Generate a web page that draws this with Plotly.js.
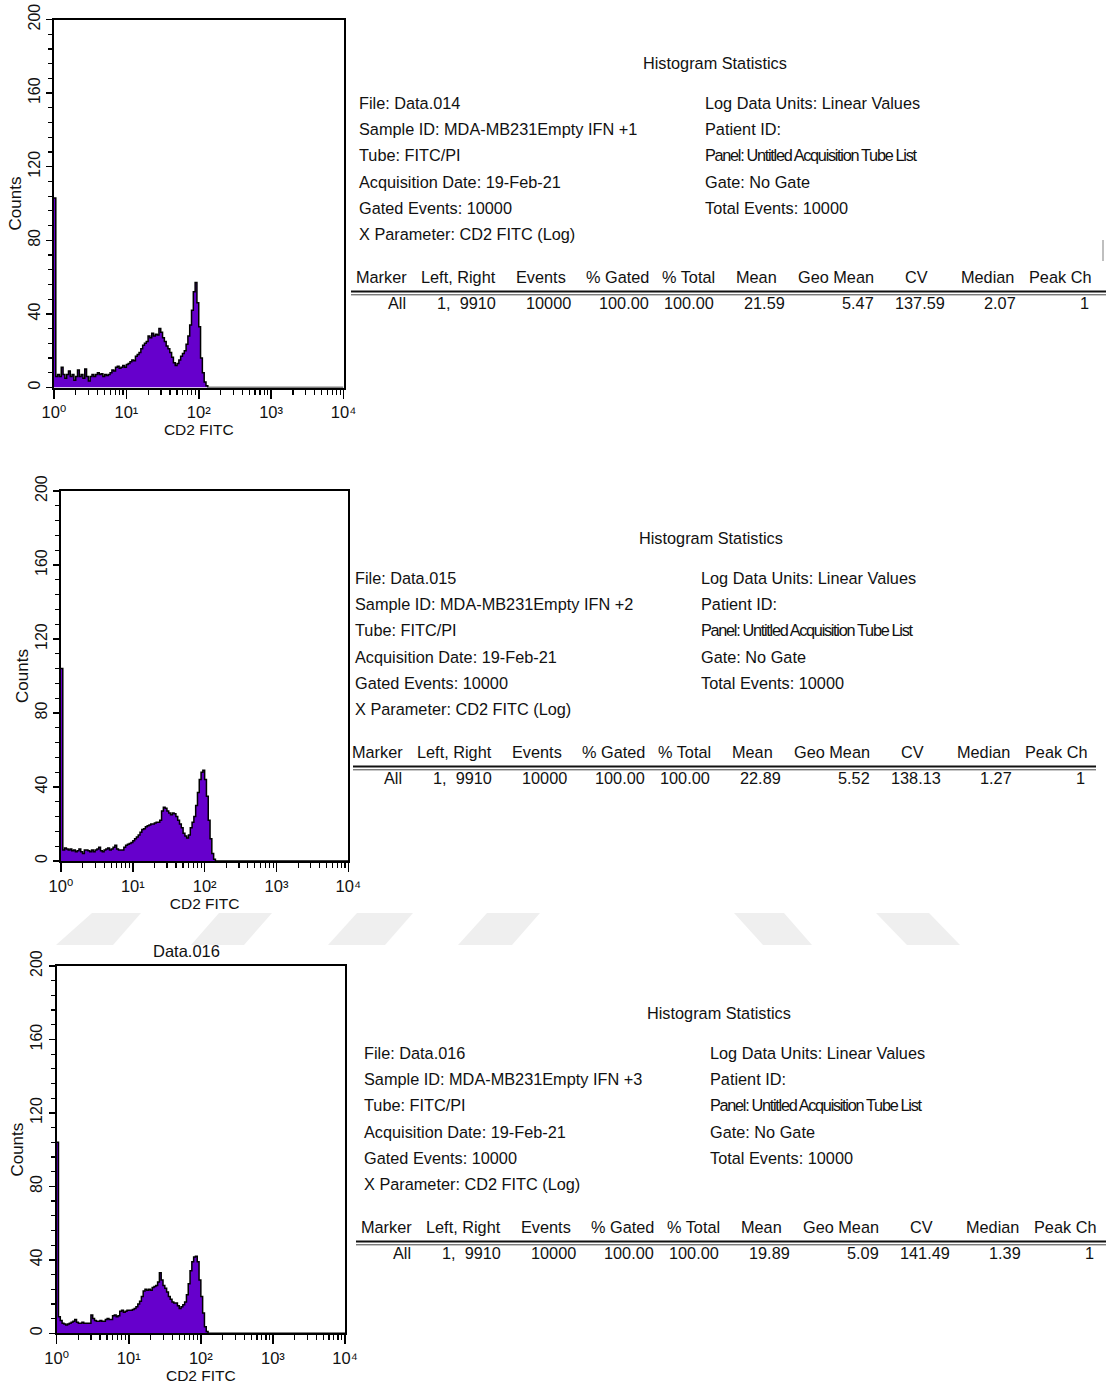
<!DOCTYPE html>
<html>
<head>
<meta charset="utf-8">
<script src="https://cdn.plot.ly/plotly-3.0.1.min.js"></script>
<style>html,body{margin:0;padding:0;background:#fff;}#chart{width:1106px;height:1387px;}</style>
</head>
<body>
<div id="chart"></div>
<script>
// ---------------- DATA ----------------
// log-spaced channel positions (CD2 FITC intensity)
const channels = [1.000,1.059,1.122,1.189,1.259,1.334,1.413,1.496,1.585,1.679,1.778,1.884,1.995,2.113,2.239,2.371,2.512,2.661,2.818,2.985,
  3.162,3.350,3.548,3.758,3.981,4.217,4.467,4.732,5.012,5.309,5.623,5.957,6.310,6.683,7.079,7.499,7.943,8.414,8.913,9.441,
  10.00,10.59,11.22,11.89,12.59,13.34,14.13,14.96,15.85,16.79,17.78,18.84,19.95,21.13,22.39,23.71,25.12,26.61,28.18,29.85,
  31.62,33.50,35.48,37.58,39.81,42.17,44.67,47.32,50.12,53.09,56.23,59.57,63.10,66.83,70.79,74.99,79.43,84.14,89.13,94.41,
  100.0,105.9,112.2,118.9,125.9,133.4,141.3,10000];

const counts014 = [103,6,7,6,11,7,5,7,9,6,7,4,6,9.5,6,7,5,10,6,3.5,
  6,7,6,7,8,7,7.5,6,7,6.5,7,8,9.5,9,11,11.5,10.5,11,12,11,
  12.5,13,14,15,14.5,17,18,19,21,23,24,25,28,27,29.5,28,29,28.5,32,30,
  27,25,22.5,21,19,16.5,13.5,12,13,15,17,18.5,20,23.5,28,34,42,52,57,46,
  33,16,8,3,1,0,0,0];

const counts015 = [104,6,7,6.5,6,6.5,5.5,6,5,5.5,6.5,5,4,6,6,5.5,5,6,5,6,
  6.5,7.5,5.5,5,6,6.5,7,6,6.5,7.5,8.5,6.5,6,6,6,7.5,8.5,9,9.5,10,
  11,12,13,14,15.5,17,17.5,18.5,19,19.5,20,20,20.5,21,21,22,27,29,28.5,27,
  26,25,26,25.5,24,22,20,18,15,13.5,12.5,14,18,21,24,30,37,44,48,49,
  44,35,22,12,4,1,0,0];

const counts016 = [104,9,7,5.5,5,4.5,5,5.5,6,6.5,7.5,6,5.5,5.5,6,5.5,5.5,5.5,5.5,10,
  8,7,6.5,6.5,7,6.5,6.5,7.5,8,7.5,7.5,9.5,10,9,9.5,12,12.5,11.5,12,12.5,
  12.5,12.5,13,13.5,14.5,16,17.5,20,23,24,23.5,24,23.5,25,25.5,26,28,33,29,26,
  24.5,22.5,20,18.5,17,16.5,16.5,15,13.5,14.5,15.5,17,21,27,34,39,41.5,42,39,29,
  20,11,3.5,1,0,0,0,0];

const xTickVals = [1,10,100,1000,10000];
const xTickText = ['10\u2070','10\u00b9','10\u00b2','10\u00b3','10\u2074'];
const yTickVals = [0,40,80,120,160,200];

const files = ['Data.014','Data.015','Data.016'];
const sampleIds = ['MDA-MB231Empty IFN +1','MDA-MB231Empty IFN +2','MDA-MB231Empty IFN +3'];
const tubes = ['FITC/PI','FITC/PI','FITC/PI'];
const acqDates = ['19-Feb-21','19-Feb-21','19-Feb-21'];
const gatedEvents = [10000,10000,10000];
const totalEvents = [10000,10000,10000];
const xParam = 'CD2 FITC (Log)';
const markers = ['All','All','All'];
const leftRight = ['1,\u00a0 9910','1,\u00a0 9910','1,\u00a0 9910'];
const events = [10000,10000,10000];
const pctGated = [100.00,100.00,100.00];
const pctTotal = [100.00,100.00,100.00];
const means = [21.59,22.89,19.89];
const geoMeans = [5.47,5.52,5.09];
const cvs = [137.59,138.13,141.49];
const medians = [2.07,1.27,1.39];
const peakCh = [1,1,1];
const statHeaders = ['Marker','Left, Right','Events','% Gated','% Total','Mean','Geo Mean','CV','Median','Peak Ch'];
const panelTitles = ['','','Data.016'];

// ---------------- LAYOUT HELPERS ----------------
const W = 1106, H = 1387;
const fx = p => p / W;
const fy = p => 1 - p / H;
const FONT = 'Liberation Sans, Arial, Helvetica, DejaVu Sans, sans-serif';
const TXT = '#111111';

const geom = [
  {xl:54,   xr:343.5, yb:387.5,  yt:19.5,  dx:0,   dy:0,   lx0:351, lx1:1106},
  {xl:61,   xr:348.3, yb:861,    yt:491,   dx:-4,  dy:475, lx0:353, lx1:1096},
  {xl:56.7, xr:345,   yb:1333.3, yt:966,   dx:4.5, dy:950, lx0:356, lx1:1106}
];
const allCounts = [counts014, counts015, counts016];

const minorX = [];
for (let k = 0; k < 4; k++) for (let m = 2; m <= 9; m++) minorX.push(m * Math.pow(10, k));

const headerRight = [409,498,568,651,717,779,876,930,1016,1093];
const valueRight  = [408,498,573,651,716,787,876,947,1018,1091];

const data = [];
const layout = {
  width: W, height: H,
  margin: {l:0, r:0, t:0, b:0},
  paper_bgcolor: '#fff', plot_bgcolor: '#fff',
  font: {family: FONT, color: TXT, size: 16},
  showlegend: false,
  annotations: [], shapes: []
};

geom.forEach((g, i) => {
  const n = i === 0 ? '' : String(i + 1);
  data.push({
    type: 'scatter', mode: 'lines',
    x: channels, y: allCounts[i],
    xaxis: 'x' + n, yaxis: 'y' + n,
    line: {shape: 'hv', color: '#000', width: 1.5},
    fill: 'tozeroy', fillcolor: '#6600CC',
    hoverinfo: 'skip'
  });
  layout['xaxis' + n] = {
    type: 'log', range: [0, 4], domain: [fx(g.xl), fx(g.xr)], anchor: 'y' + n,
    showline: true, mirror: true, linecolor: '#000', linewidth: 2,
    ticks: 'outside', ticklen: 9, tickwidth: 1.5, tickcolor: '#000',
    tickmode: 'array', tickvals: xTickVals, ticktext: xTickText,
    tickfont: {size: 16.5, family: FONT, color: TXT},
    showgrid: false, zeroline: false, automargin: false, fixedrange: true,
    minor: {tickmode: 'array', tickvals: minorX, ticks: 'outside', ticklen: 5, tickwidth: 1.2, tickcolor: '#000', showgrid: false},
    title: {text: 'CD2 FITC', font: {size: 15.5, family: FONT, color: TXT}, standoff: 1}
  };
  layout['yaxis' + n] = {
    range: [0, 200], domain: [fy(g.yb), fy(g.yt)], anchor: 'x' + n,
    showline: true, mirror: true, linecolor: '#000', linewidth: 2,
    ticks: 'outside', ticklen: 6, tickwidth: 1.5, tickcolor: '#000',
    tickmode: 'array', tickvals: yTickVals, tickangle: -90,
    tickfont: {size: 16, family: FONT, color: TXT},
    showgrid: false, zeroline: false, automargin: false, fixedrange: true,
    minor: {tick0: 0, dtick: 8, ticks: 'outside', ticklen: 4, tickwidth: 1.2, tickcolor: '#000', showgrid: false},
    title: {text: 'Counts', font: {size: 17, family: FONT, color: TXT}, standoff: 0}
  };

  const A = (text, x, y, anchor, extra) => layout.annotations.push(Object.assign({
    text: text, x: fx(x), y: fy(y), xref: 'paper', yref: 'paper',
    xanchor: anchor, yanchor: 'middle', showarrow: false,
    font: {size: 16.3, family: FONT, color: TXT}
  }, extra || {}));

  if (panelTitles[i]) A(panelTitles[i], (g.xl + g.xr) / 2 - 14, g.yt - 15, 'center', {font: {size: 16.5, family: FONT, color: TXT}});

  A('Histogram Statistics', 715 + g.dx, 63 + g.dy, 'center');
  const leftLines = [
    'File: ' + files[i],
    'Sample ID: ' + sampleIds[i],
    'Tube: ' + tubes[i],
    'Acquisition Date: ' + acqDates[i],
    'Gated Events: ' + gatedEvents[i],
    'X Parameter: ' + xParam
  ];
  leftLines.forEach((t, k) => A(t, 357 + g.dx, 103 + 26.2 * k + g.dy, 'left'));
  const rightLines = [
    'Log Data Units: Linear Values',
    'Patient ID:',
    '<span style="letter-spacing:-1.3px">Panel: Untitled Acquisition Tube List</span>',
    'Gate: No Gate',
    'Total Events: ' + totalEvents[i]
  ];
  rightLines.forEach((t, k) => A(t, 703 + g.dx, 103 + 26.2 * k + g.dy, 'left'));

  statHeaders.forEach((h, k) => A(h, headerRight[k] + g.dx, 277 + g.dy, 'right'));
  const vals = [markers[i], leftRight[i], String(events[i]), pctGated[i].toFixed(2), pctTotal[i].toFixed(2),
    means[i].toFixed(2), geoMeans[i].toFixed(2), cvs[i].toFixed(2), medians[i].toFixed(2), String(peakCh[i])];
  vals.forEach((v, k) => A(v, valueRight[k] + g.dx, 303 + g.dy, 'right'));

  layout.shapes.push({type: 'line', xref: 'paper', yref: 'paper', x0: fx(g.lx0), x1: fx(g.lx1), y0: fy(291.5 + g.dy), y1: fy(291.5 + g.dy), line: {color: '#111', width: 2}});
  layout.shapes.push({type: 'line', xref: 'paper', yref: 'paper', x0: fx(g.lx0), x1: fx(g.lx1), y0: fy(294.8 + g.dy), y1: fy(294.8 + g.dy), line: {color: '#444', width: 1}});
});

// small grey mark at right edge of first stats block
layout.shapes.push({type: 'line', xref: 'paper', yref: 'paper', x0: fx(1103), x1: fx(1103), y0: fy(240), y1: fy(261), line: {color: '#aaaaaa', width: 1.5}});

// faint watermark parallelograms between panels 2 and 3
const wm = [
  [[92,913],[141,913],[113,945],[56,945]],
  [[219,913],[272,913],[244,945],[191,945]],
  [[357,913],[413,913],[385,945],[328,945]],
  [[487,913],[540,913],[512,945],[458,945]],
  [[734,913],[784,913],[812,945],[763,945]],
  [[876,913],[929,913],[960,945],[907,945]]
];
wm.forEach(p => {
  const path = 'M' + p.map(q => fx(q[0]) + ',' + fy(q[1])).join(' L') + ' Z';
  layout.shapes.push({type: 'path', xref: 'paper', yref: 'paper', path: path, fillcolor: '#efefef', line: {width: 0}, layer: 'below'});
});

Plotly.newPlot('chart', data, layout, {staticPlot: true, displayModeBar: false});
</script>
</body>
</html>
